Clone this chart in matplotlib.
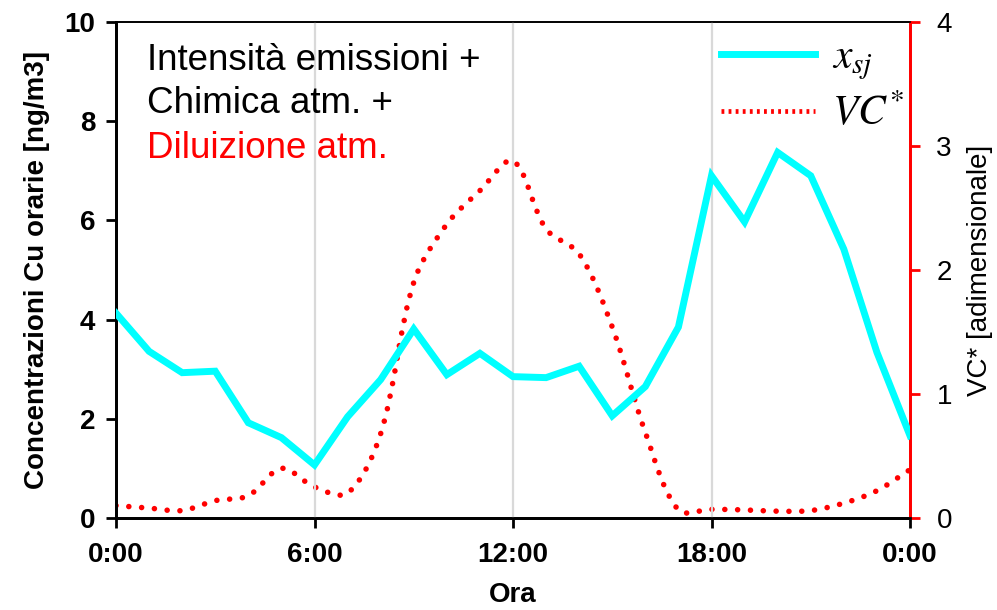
"""Concentrazioni orarie di Cu e VC* (giorno tipo)."""

import matplotlib
matplotlib.use("Agg")
import matplotlib.pyplot as plt
from matplotlib.lines import Line2D
from matplotlib.patches import PathPatch
from matplotlib.path import Path
import numpy as np

plt.rcParams["font.family"] = ["Liberation Sans", "DejaVu Sans"]
plt.rcParams["mathtext.fontset"] = "stix"

ore = list(range(25))
cu_orarie = [4.13, 3.36, 2.93, 2.96, 1.92, 1.62, 1.07, 2.04, 2.79, 3.81, 2.89, 3.32, 2.85,
             2.83, 3.06, 2.06, 2.65, 3.85, 6.90, 5.97, 7.37, 6.90, 5.42, 3.34, 1.66]
vc_star = [0.10, 0.08, 0.06, 0.14, 0.18, 0.40, 0.25, 0.20, 0.68, 1.90, 2.37, 2.64, 2.88,
           2.33, 2.13, 1.54, 0.69, 0.065, 0.07, 0.065, 0.055, 0.06, 0.12, 0.22, 0.39]
tick_ore = [0, 6, 12, 18, 24]
tick_etichette = ["0:00", "6:00", "12:00", "18:00", "0:00"]

CIANO = "#00ffff"
ROSSO = "#ff0000"


def smooth_path(ax, x, y, tension=1 / 3):
    """Bezier path through the points (Excel-like smoothing, done in pixel space)."""
    tr = ax.transData
    p = tr.transform(np.column_stack([x, y]).astype(float))
    n = len(p)
    verts = [p[0]]
    codes = [Path.MOVETO]
    for i in range(n - 1):
        a, b = p[i], p[i + 1]
        prev = p[i - 1] if i > 0 else a
        nxt = p[i + 2] if i + 2 < n else b
        d_ab = np.hypot(*(b - a))
        d_pa = np.hypot(*(a - prev))
        d_bn = np.hypot(*(nxt - b))
        w1 = d_ab / (d_pa + d_ab) if d_pa + d_ab > 0 else 0
        w2 = d_ab / (d_ab + d_bn) if d_ab + d_bn > 0 else 0
        c1 = a + (b - prev) * tension * w1
        c2 = b - (nxt - a) * tension * w2
        verts += [c1, c2, b]
        codes += [Path.CURVE4] * 3
    verts = tr.inverted().transform(np.array(verts))
    return Path(verts, codes)


fig = plt.figure(figsize=(9.97, 6.10), dpi=100)
ax = fig.add_axes([116 / 997, 1 - 518 / 610, 794 / 997, 496 / 610])
ax2 = ax.twinx()

ax.set_xlim(0, 24)
ax.set_ylim(0, 10)
ax2.set_ylim(0, 4)

for h in tick_ore[1:-1]:
    ax.axvline(h, color="#d9d9d9", linewidth=1.6, zorder=0)

ax.plot(ore, cu_orarie, color=CIANO, linewidth=5, solid_joinstyle="miter", zorder=3)

patch = PathPatch(smooth_path(ax2, ore, vc_star), transform=ax2.transData, fill=False,
                  edgecolor=ROSSO, linewidth=4, linestyle=(0, (0.01, 2.3)),
                  capstyle="round", zorder=2)
ax2.add_patch(patch)

ax.set_xticks(tick_ore)
ax.set_xticklabels(tick_etichette)
ax.set_yticks(range(0, 11, 2))
ax2.set_yticks(range(0, 5))

for lab in ax.get_xticklabels():
    lab.set_fontweight("bold")
    lab.set_fontsize(20)
for lab in ax.get_yticklabels():
    lab.set_fontweight("bold")
    lab.set_fontsize(20)
for lab in ax2.get_yticklabels():
    lab.set_fontsize(20)

ax.tick_params(axis="x", direction="out", length=7, width=2, pad=10)
ax.tick_params(axis="y", direction="out", length=7, width=2, pad=8)
ax2.tick_params(axis="y", direction="out", length=7, width=2, pad=12, colors="black")
ax2.tick_params(axis="y", color=ROSSO)

for a in (ax, ax2):
    a.spines["left"].set_linewidth(2)
    a.spines["bottom"].set_linewidth(2)
    a.spines["top"].set_linewidth(1.2)
    a.spines["right"].set_linewidth(2)
    a.spines["right"].set_color(ROSSO)

ax.set_xlabel("Ora", fontsize=20, fontweight="bold", labelpad=10)
ax.set_ylabel("Concentrazioni Cu orarie [ng/m3]", fontsize=20, fontweight="bold", labelpad=10)
ax2.set_ylabel("VC* [adimensionale]", fontsize=20, labelpad=11)

ax.text(0.039, 0.903, "Intensità emissioni +", transform=ax.transAxes, fontsize=26.5,
        va="baseline", ha="left")
ax.text(0.039, 0.817, "Chimica atm. +", transform=ax.transAxes, fontsize=26.5,
        va="baseline", ha="left")
ax.text(0.039, 0.726, "Diluizione atm.", transform=ax.transAxes, fontsize=26.5,
        va="baseline", ha="left", color=ROSSO)

handles = [
    Line2D([], [], color=CIANO, linewidth=5),
    Line2D([], [], color=ROSSO, linewidth=3.4, linestyle=(0, (0.6, 0.9))),
]
leg = ax.legend(handles, [r"$x_{sj}$", r"$VC^{*}$"], loc="upper left",
                bbox_to_anchor=(692 / 997, 1 - 8 / 610), bbox_transform=fig.transFigure,
                frameon=False, fontsize=30, handlelength=2.25, handletextpad=0.4,
                labelspacing=0.3, borderpad=0.2)
ax.set_zorder(ax2.get_zorder() + 1)
ax.patch.set_visible(False)

fig.savefig("out.png", dpi=100)
